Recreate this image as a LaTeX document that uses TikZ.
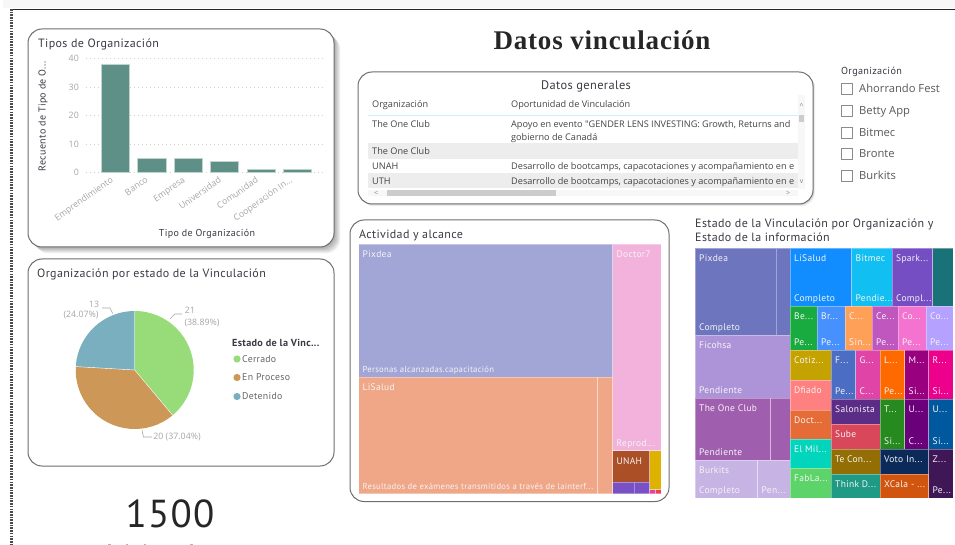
\documentclass[tikz,border=0pt]{standalone}
\usepackage{fontspec}
\setmainfont{Open Sans}
\newfontfamily\dinfont[LetterSpace=3]{PT Sans}
\newfontfamily\segfont{Open Sans}
\newfontfamily\headfont[LetterSpace=3]{Liberation Serif}
\newcommand\fsz[1]{\fontsize{#1}{#1}\selectfont}
\newcounter{cellno}
\definecolor{axisgrey}{HTML}{A6A6A6}
\definecolor{titleink}{HTML}{3A3A44}
\definecolor{bodyink}{HTML}{444444}
\definecolor{cardline}{HTML}{6E6E6E}
\definecolor{barteal}{HTML}{5F9087}
\definecolor{bandgrey}{HTML}{EDEDED}
\definecolor{cellink}{HTML}{F4F4F4}
\tikzset{
  x=1pt,y=-1pt,
  card/.style={draw=cardline,line width=1pt,fill=white,rounded corners=14pt},
  cardtitle/.style={anchor=base west,inner sep=0pt,text=titleink,font=\dinfont\fsz{12}},
  axlabel/.style={inner sep=0pt,text=axisgrey,font=\segfont\fsz{8.8}},
  barcell/.style={fill=barteal,draw=barteal!40,line width=.5pt},
  gridl/.style={draw=black!18,line width=.7pt,dash pattern=on 1pt off 3pt},
  leader/.style={draw=black!35,line width=.6pt},
  tabletext/.style={anchor=base west,inner sep=0pt,text=bodyink,font=\segfont\fsz{9.15}},
  slicetext/.style={anchor=base west,inner sep=0pt,text=black!65,font=\segfont\fsz{11.2}},
  checkbox/.style={draw=black!45,line width=.7pt,fill=white},
  tmcell/.style={line width=.5pt,draw=white,draw opacity=.35},
  tmlabel/.style={anchor=base west,inner sep=0pt,text=cellink,font=\dinfont\fsz{9.5}},
  scrollmark/.style={inner sep=0pt,text=black!50,font=\segfont\fsz{7}},
  legitem/.style={inner sep=0pt,anchor=west,text=black!60,font=\dinfont\fsz{9.8}},
}
% cell: x1,y1,x2,y2,colour,top label,bottom label
\newcommand\cell[7]{%
  \stepcounter{cellno}%
  \definecolor{cellfill}{HTML}{#5}%
  \path[tmcell,fill=cellfill] (#1,#2) rectangle (#3,#4);%
  \node[tmlabel] (top\thecellno) at (#1+4,#2+13.5) {#6};%
  \node[tmlabel] (bot\thecellno) at (#1+4,#4-4.5) {#7};%
}
\begin{document}
\begin{tikzpicture}
\useasboundingbox (0,0) rectangle (955,545);
\clip (0,0) rectangle (955,545);
\fill[white] (0,0) rectangle (955,545);
% screenshot frame
\fill[black!3] (3,0) rectangle (955,8);
\draw[black!85,line width=1.2pt] (12,9.5) -- (955,9.5);
\draw[black!70,line width=3pt,dash pattern=on 1.6pt off 1.1pt] (11.5,9) -- (11.5,545);

% ---------- card 1
\foreach \i in {7,6,...,1}
  \fill[black,opacity=.05,rounded corners=14pt] (28+\i*.9,29+\i*.9) rectangle (334+\i*.9,247+\i*.9);
\path[card] (28,29) rectangle (334,247);
\node[cardtitle] (t1) at (38,48) {Tipos de Organización};
\foreach \v/\yy in {40/58.7,30/87.2,20/115.6,10/144,0/172.4}{
  \draw[gridl] (86,\yy) -- (326,\yy);
  \node[axlabel,anchor=east] (y\v) at (79,\yy) {\v};
}
\path[barcell] (101,64.5) rectangle (129.5,172.5);
\path[barcell] (137.5,158.5) rectangle (165.8,172.5);
\path[barcell] (174,158.5) rectangle (202.2,172.5);
\path[barcell] (210.4,161) rectangle (238.7,172.5);
\path[barcell] (247,169.5) rectangle (275,172.5);
\path[barcell] (283.4,169.5) rectangle (311.5,172.5);
\foreach \lab/\xx/\nm in {Emprendimiento/110/b1,Banco/145/b2,Empresa/182/b3,Universidad/218/b4,Comunidad/255/b5}
  \node[axlabel,anchor=north east,rotate=35] (\nm) at (\xx,176) {\lab};
\node[axlabel,anchor=north east,rotate=35] (b6) at (289,176) {Cooperación In...};
\node[inner sep=0pt,text=titleink,font=\dinfont\fsz{10}] (xt) at (207,234) {Tipo de Organización};
\node[inner sep=0pt,text=titleink,font=\dinfont\fsz{10},rotate=90] (yt) at (43,116) {Recuento de Tipo de O...};

% ---------- card 2
\path[card] (28,259) rectangle (334,466);
\node[cardtitle] (t2) at (37,277) {Organización por estado de la Vinculación};
\definecolor{piegreen}{HTML}{98DC7A}
\definecolor{pieorange}{HTML}{CD9757}
\definecolor{pieblue}{HTML}{7AAFBF}
\begin{scope}[shift={(134.7,370)},x=1pt,y=1pt]
  \fill[piegreen] (0,0) -- (90:59) arc[start angle=90,end angle=-50,radius=59] -- cycle;
  \fill[pieorange] (0,0) -- (-50:59) arc[start angle=-50,end angle=-183.3,radius=59] -- cycle;
  \fill[pieblue] (0,0) -- (-183.3:59) arc[start angle=-183.3,end angle=-270,radius=59] -- cycle;
  \draw[white,line width=.4pt] (0,0) -- (90:59) (0,0) -- (-50:59) (0,0) -- (-183.3:59);
\end{scope}
\draw[leader] (170,319) -- (175,314) -- (182,314);
\draw[leader] (112.7,313.5) -- (110,308) -- (102,308);
\draw[leader] (142,430) -- (143.5,437) -- (152,437);
\node[axlabel] (p1a) at (190,310) {21};
\node[axlabel] (p1b) at (202,323) {(38.89\%)};
\node[axlabel] (p3a) at (94,304) {13};
\node[axlabel] (p3b) at (81,315.5) {(24.07\%)};
\node[axlabel] (p2) at (177,437) {20 (37.04\%)};
\node[anchor=west,inner sep=0pt,text=titleink,font=\dinfont\fsz{10.2}\bfseries] (lg) at (232,343) {Estado de la Vinc...};
\fill[piegreen] (237,359) circle (3.6);
\fill[pieorange] (237,377.5) circle (3.6);
\fill[pieblue] (237,396.5) circle (3.6);
\node[legitem] (l1) at (242,359) {Cerrado};
\node[legitem] (l2) at (242,377.5) {En Proceso};
\node[legitem] (l3) at (242,396.5) {Detenido};

% ---------- KPI
\node[inner sep=0pt,text=black!85,font=\dinfont\fsz{39}] (kpi) at (170,514) {1500};
\draw[black!30,line width=.9pt] (108,544.6) -- (111,544.6) (126,544.6) -- (128,544.6) (144,544.6) -- (146,544.6) (190,544.6) -- (193,544.6);

% ---------- heading
\node[inner sep=0pt,text=black!85,font=\headfont\fsz{27}\bfseries] (head) at (602,40) {Datos vinculación};

% ---------- table card
\foreach \i in {3,2,1}
  \fill[black,opacity=.06,rounded corners=14pt] (358+\i*.7,72+\i*.7) rectangle (813+\i*.7,204+\i*.7);
\path[card] (358,72) rectangle (813,204);
\node[inner sep=0pt,text=titleink,font=\dinfont\fsz{12.4}] (t3) at (586,86.5) {Datos generales};
\fill[bandgrey] (368,143) rectangle (798,159);
\fill[bandgrey] (368,173) rectangle (798,188.5);
\draw[blue!30!cyan!20,line width=1.2pt] (368,115.5) -- (798,115.5);
\node[tabletext] (h1) at (372,107.5) {Organización};
\node[tabletext] (h2) at (511,107.5) {Oportunidad de Vinculación};
\node[tabletext] (r1) at (372,127.8) {The One Club};
\node[tabletext] (r1b) at (511,127.8) {Apoyo en evento "GENDER LENS INVESTING: Growth, Returns and};
\node[tabletext] (r1c) at (511,140.8) {gobierno de Canadá};
\node[tabletext] (r2) at (372,155) {The One Club};
\node[tabletext] (r3) at (372,170) {UNAH};
\node[tabletext] (r3b) at (511,170) {Desarrollo de bootcamps, capacotaciones y acompañamiento en e};
\node[tabletext] (r4) at (372,185) {UTH};
\node[tabletext] (r4b) at (511,185) {Desarrollo de bootcamps, capacotaciones y acompañamiento en e};
% scrollbars cover clipped text
\fill[black!3] (798,95) rectangle (805,189);
\fill[black!20] (798.5,115) rectangle (804,122.5);
\fill[black!3] (368,190) rectangle (798,196.5);
\fill[black!20] (387,190) rectangle (556,196.5);
\node[scrollmark] (s1) at (801.5,105.5) {\^{}};
\node[scrollmark] (s2) at (801.5,182) {v};
\node[scrollmark] (s3) at (376,193) {<};
\node[scrollmark] (s4) at (788,193) {>};

% ---------- slicer
\node[anchor=base west,inner sep=0pt,text=titleink,font=\dinfont\fsz{10.2}] (sl) at (841,74.5) {Organización};
\foreach \lab/\yy/\nm in {Ahorrando Fest/89/c1,Betty App/111/c2,Bitmec/132.5/c3,Bronte/154/c4,Burkits/175.5/c5}{
  \draw[checkbox] (841.5,\yy-5.5) rectangle (852.5,\yy+5.5);
  \node[slicetext] (\nm) at (859,\yy+4) {\lab};
}

% ---------- card 4
\path[card] (350,220) rectangle (669,501.5);
\node[cardtitle] (t4) at (359,239) {Actividad y alcance};
\cell{358.5}{244}{612.5}{377}{A1A6D7}{Pixdea}{\fsz{8.65}Personas alcanzadas.capacitación}
\cell{358.5}{377}{597.5}{493.5}{F0A788}{LiSalud}{\fsz{8.65}Resultados de exámenes transmitidos a través de lainterf...}
\cell{597.5}{377}{612.5}{493.5}{F0A788}{}{}
\cell{612.5}{244}{661}{450.5}{F2B2DB}{Doctor7}{Reprod...}
\cell{612.5}{450.5}{649.5}{482}{AB4F27}{UNAH}{}
\cell{612.5}{482}{634}{493.5}{7A50C5}{}{}
\cell{634}{482}{649.5}{493.5}{7A50C5}{}{}
\cell{649.5}{450.5}{661}{489.5}{DDB200}{}{}
\cell{649.5}{489.5}{655.5}{493.5}{E83FA0}{}{}
\cell{655.5}{489.5}{661}{493.5}{E8405A}{}{}

% ---------- treemap 2
\node[cardtitle] (t5a) at (695,227.5) {Estado de la Vinculación por Organización y};
\node[cardtitle] (t5b) at (695,241.5) {Estado de la información};
\cell{695}{248}{776}{335}{6D75BE}{Pixdea}{Completo}
\cell{776}{248}{790}{335}{6D75BE}{}{}
\cell{695}{335}{790}{398}{AD94D8}{Ficohsa}{Pendiente}
\cell{695}{398}{770.5}{460}{A05FAE}{The One Club}{Pendiente}
\cell{770.5}{398}{790}{460}{A05FAE}{}{}
\cell{695}{460}{757.5}{498}{C7B3E4}{Burkits}{Completo}
\cell{757.5}{460}{790}{498}{C7B3E4}{}{Pen...}
\cell{790}{248}{851.5}{306}{118DFF}{LiSalud}{Completo}
\cell{851.5}{248}{892}{306}{12BFF2}{Bitmec}{Pendie...}
\cell{892}{248}{932.5}{306}{744EC2}{Spark...}{Compl...}
\cell{932.5}{248}{953}{306}{197278}{}{}
\cell{790}{306}{817}{350}{1AAB40}{Be...}{Pe...}
\cell{817}{306}{845}{350}{4791FF}{Br...}{Pe...}
\cell{845}{306}{872}{350}{FFA058}{C...}{Sin...}
\cell{872}{306}{898}{350}{BF57BF}{Ce...}{Pe...}
\cell{898}{306}{926}{350}{F472D0}{Co...}{Pe...}
\cell{926}{306}{953}{350}{B5A1FF}{Co...}{Pe...}
\cell{790}{350}{831}{380}{C4A200}{Cotiz...}{}
\cell{790}{380}{831}{410}{FF8080}{Dfiado}{}
\cell{790}{410}{831}{439}{E66C37}{Doct...}{}
\cell{790}{439}{831}{468}{01D6BC}{El Mil...}{}
\cell{790}{468}{831}{498}{5CD46A}{FabLa...}{}
\cell{831}{350}{855.5}{399}{4C6DC4}{F...}{Pe...}
\cell{855.5}{350}{880}{399}{E044A7}{G...}{C...}
\cell{880}{350}{904.5}{399}{FF6A00}{L...}{Pe...}
\cell{904.5}{350}{928.5}{399}{99007F}{M...}{Si...}
\cell{928.5}{350}{953}{399}{EC008C}{R...}{Si...}
\cell{831}{399}{880}{424}{5B2D86}{Salonista}{}
\cell{831}{424}{880}{449}{D9475A}{Sube}{}
\cell{880}{399}{904.5}{449}{278A1E}{T...}{Si...}
\cell{904.5}{399}{928.5}{449}{6B007B}{U...}{C...}
\cell{928.5}{399}{953}{449}{00599E}{U...}{Si...}
\cell{831}{449}{880}{474}{936E05}{Te Con...}{}
\cell{831}{474}{880}{498}{1F9A85}{Think D...}{}
\cell{880}{449}{928.5}{474}{0B2A5A}{Voto In...}{}
\cell{880}{474}{928.5}{498}{D2550F}{XCala - ...}{}
\cell{928.5}{449}{953}{498}{3F1656}{Z...}{Pe...}
\end{tikzpicture}
\end{document}
